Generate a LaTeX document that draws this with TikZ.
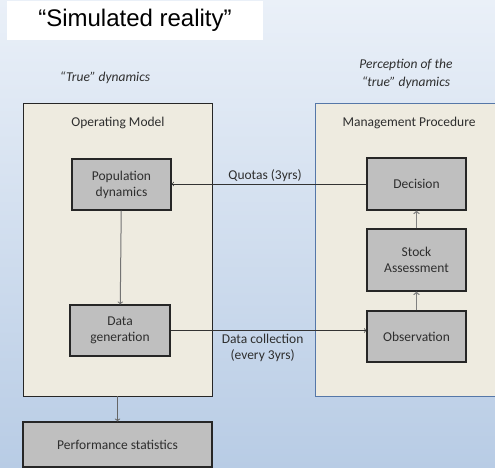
\documentclass[tikz,border=0pt]{standalone}
\usepackage{fontspec}
\setmainfont{Carlito}
\newfontfamily\arialfont{Liberation Sans}
\usepackage{xcolor}
\definecolor{bgtop}{HTML}{EAF0F8}
\definecolor{bgbot}{HTML}{B8CCE5}
\definecolor{panel}{HTML}{EEEBE0}
\definecolor{stepgrey}{HTML}{BFBFBF}
\definecolor{ink}{HTML}{2E2E2E}
\definecolor{mpedge}{HTML}{5577A8}

\begin{document}
\begin{tikzpicture}[
  x=1pt, y=-1pt,
  txt/.style={font=\fontsize{13.5}{16}\selectfont, text=ink, align=center},
  panelbox/.style={draw=black!85, fill=panel, line width=0.9pt, inner sep=0pt},
  stepbox/.style={txt, draw=black!85, fill=stepgrey, line width=1.1pt, inner sep=0pt, minimum width=99pt},
  arr/.style={->, >=to, line width=0.7pt}
]
  % backdrop and frame
  \clip (0,0) rectangle (495,468);
  \shade[top color=bgtop, bottom color=bgbot] (0,0) rectangle (495,468);
  \node[fill=white, minimum width=256pt, minimum height=39pt, inner sep=0pt] (titlebox) at (135,20.5) {};
  \node[font=\arialfont\fontsize{24}{28}\selectfont, text=black] (title) at (135,20) {“Simulated reality”};

  % Operating model (true dynamics)
  \node[txt, font=\itshape\fontsize{13.5}{16}\selectfont] (truedyn) at (105,78) {“True” dynamics};
  \node[panelbox, minimum width=189pt, minimum height=293pt] (om) at (117.5,249.5) {};
  \node[txt] (omlabel) at (118,123) {Operating Model};
  \node[stepbox, minimum height=51pt] (pop) at (121.5,184.5) {Population\\dynamics};
  \node[stepbox, minimum height=51pt, minimum width=100pt] (datagen) at (120,330.5) {Data\\generation};
  \node[stepbox, minimum width=189pt, minimum height=45pt] (perf) at (117.5,444.5) {Performance statistics};

  % Management procedure (perceived dynamics)
  \node[txt, font=\itshape\fontsize{13.5}{18}\selectfont] (perception) at (406,74) {Perception of the\\“true” dynamics};
  \node[panelbox, draw=mpedge, minimum width=185pt, minimum height=293pt] (mp) at (407.5,249.5) {};
  \node[txt] (mplabel) at (409,123) {Management Procedure};
  \node[stepbox, minimum height=52pt] (decision) at (416.5,184) {Decision};
  \node[stepbox, minimum height=62pt] (stock) at (416.5,260) {Stock\\Assessment};
  \node[stepbox, minimum height=51pt] (obs) at (416.5,336.5) {Observation};

  % feedback loop
  \draw[arr, black!55, line width=1pt] (pop) -- (datagen);
  \draw[arr, black!50, line width=1.3pt] (obs) -- (stock);
  \draw[arr, black!50, line width=1.3pt] (stock) -- (decision);
  \draw[arr, black!80] (decision.west) -- (decision.west -| pop.east)
    node[txt, pos=0.52, above, yshift=-1pt] {Quotas (3yrs)};
  \draw[arr, black!80] (datagen.east) -- (datagen.east -| obs.west)
    node[txt, pos=0.47, below] {Data collection\\(every 3yrs)};
  \draw[arr, black!60, line width=1pt] (om) -- (perf);
\end{tikzpicture}
\end{document}
